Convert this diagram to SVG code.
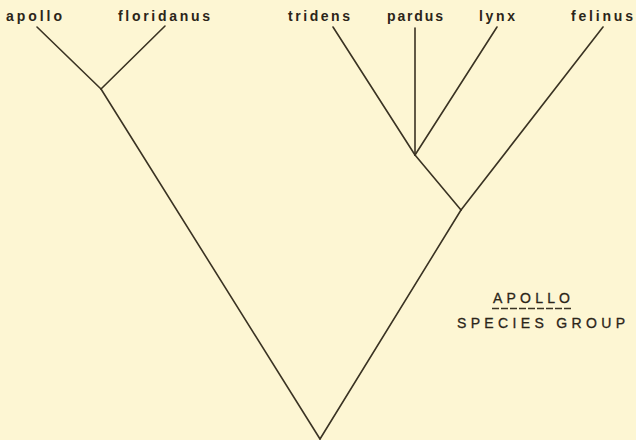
<svg xmlns="http://www.w3.org/2000/svg" width="636" height="440" viewBox="0 0 636 440">
<style>
.bg{fill:#fdf6d3}
.edge{stroke:#3a3323;stroke-width:1.6;fill:none;stroke-linecap:round}
.lbl{font-family:"Liberation Sans",Arial,sans-serif;font-weight:bold;font-size:14px;fill:#2b2519}
.cap{font-family:"Liberation Sans",Arial,sans-serif;font-size:14px;fill:#2b2519;stroke:#2b2519;stroke-width:0.3}
</style>
<rect class="bg" x="0" y="0" width="636" height="440"/>
<g id="connectors">
<line class="edge" x1="37" y1="27" x2="101" y2="89"/>
<line class="edge" x1="165" y1="26" x2="101" y2="89"/>
<line class="edge" x1="101" y1="89" x2="320" y2="439"/>
<line class="edge" x1="320" y1="439" x2="461" y2="210"/>
<line class="edge" x1="461" y1="210" x2="603" y2="27"/>
<line class="edge" x1="461" y1="210" x2="415" y2="155"/>
<line class="edge" x1="415" y1="155" x2="333" y2="27"/>
<line class="edge" x1="415" y1="155" x2="415" y2="28"/>
<line class="edge" x1="415" y1="155" x2="497" y2="27"/>
</g>
<g id="apollo"><text class="lbl" x="6" y="21" textLength="56" lengthAdjust="spacing">apollo</text></g>
<g id="floridanus"><text class="lbl" x="118" y="21" textLength="92" lengthAdjust="spacing">floridanus</text></g>
<g id="tridens"><text class="lbl" x="288" y="21" textLength="62" lengthAdjust="spacing">tridens</text></g>
<g id="pardus"><text class="lbl" x="387" y="21" textLength="56" lengthAdjust="spacing">pardus</text></g>
<g id="lynx"><text class="lbl" x="479" y="21" textLength="36" lengthAdjust="spacing">lynx</text></g>
<g id="felinus"><text class="lbl" x="571" y="21" textLength="62" lengthAdjust="spacing">felinus</text></g>
<g id="title">
<text class="cap" x="493" y="303" textLength="77" lengthAdjust="spacing">APOLLO</text>
<line x1="492" y1="308.5" x2="571" y2="308.5" stroke="#3a3323" stroke-width="1.3" stroke-dasharray="7,2"/>
<text class="cap" x="457" y="328" textLength="168" lengthAdjust="spacing">SPECIES GROUP</text>
</g>
</svg>
